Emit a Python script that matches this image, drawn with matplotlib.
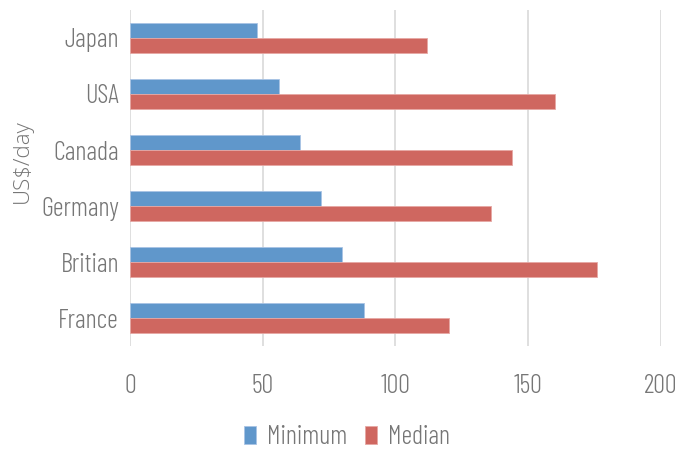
import numpy as np
import matplotlib
matplotlib.use("Agg")
import matplotlib.pyplot as plt

# Données : coût journalier (US$/jour) par pays
pays = ["France", "Britian", "Germany", "Canada", "USA", "Japan"]
minimum = [88, 80, 72, 64, 56, 48]
mediane = [120, 176, 136, 144, 160, 112]

couleur_min = "#6097cb"
couleur_med = "#cf6760"
gris = "#767676"

plt.rcParams["font.family"] = ["Barlow Condensed", "DejaVu Sans"]
plt.rcParams["font.weight"] = 300

fig = plt.figure(figsize=(6.94, 4.53), dpi=100)
ax = fig.add_axes([0.1873, 0.236, 0.7651, 0.742])

y = np.arange(len(pays))
h = 0.27
ax.barh(y + h / 2, minimum, height=h, color=couleur_min, edgecolor="#a9c4e4", linewidth=0.6, label="Minimum")
ax.barh(y - h / 2, mediane, height=h, color=couleur_med, edgecolor="#e6a8a4", linewidth=0.6, label="Median")

ax.set_xlim(0, 200)
ax.set_ylim(-0.5, len(pays) - 0.5)
ax.set_xticks([0, 50, 100, 150, 200])
ax.set_yticks(y)
ax.set_yticklabels(pays)
ax.tick_params(axis="both", length=0, colors=gris, labelsize=19)
ax.tick_params(axis="x", pad=20)
ax.tick_params(axis="y", pad=8)
ax.grid(axis="x", color="#d9d9d9", linewidth=1.2)
ax.set_axisbelow(True)
for s in ax.spines.values():
    s.set_visible(False)

fig.text(0.032, 0.645, "US$/day", rotation=90, ha="center", va="center",
         color=gris, fontsize=16, family=["Open Sans", "DejaVu Sans"], weight=300)

ax.legend(loc="center", bbox_to_anchor=(0.5, 0.035), bbox_transform=fig.transFigure,
          ncol=2, frameon=False, fontsize=19, labelcolor=gris,
          handlelength=0.45, handleheight=0.65, handletextpad=0.4, columnspacing=0.7)

fig.savefig("out.png", dpi=100)
